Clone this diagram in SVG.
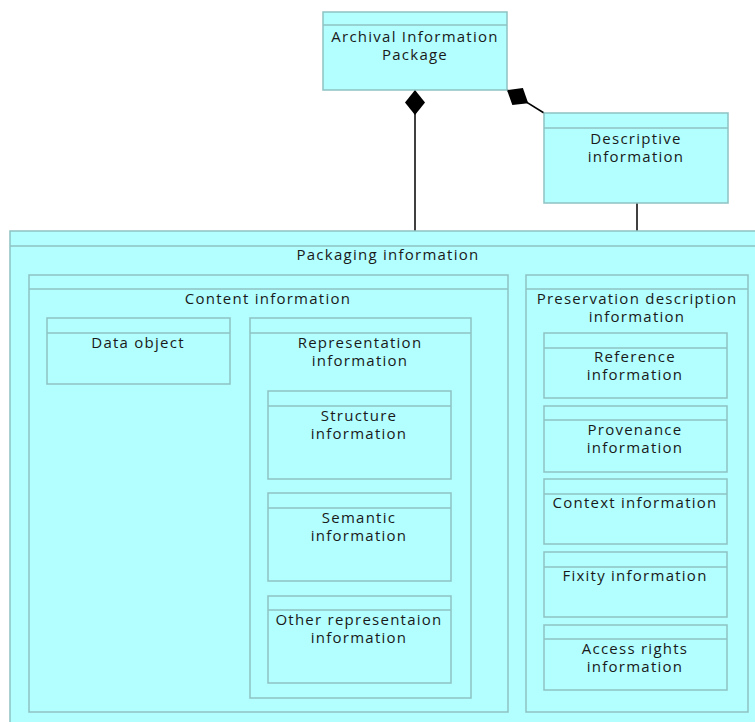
<svg xmlns="http://www.w3.org/2000/svg" width="755" height="722" viewBox="0 0 755 722">
  <style>
    .box { fill: #b3ffff; stroke: #8fc2c2; stroke-width: 1.5; }
    .hdr { stroke: #8fc2c2; stroke-width: 1.5; fill: none; }
    .lbl { font-family: "Open Sans", "DejaVu Sans", sans-serif; font-size: 15px; letter-spacing: 1.25px; fill: #1a1a1a; text-anchor: middle; }
    .conn { stroke: #000; stroke-width: 1.5; fill: none; }
  </style>
  <defs>
    <marker id="diamond" markerUnits="userSpaceOnUse" markerWidth="28" markerHeight="22" refX="0" refY="10" orient="auto">
      <path d="M0,10 L12.5,0 L25,10 L12.5,20 Z" fill="#000"/>
    </marker>
  </defs>

  <rect width="755" height="722" fill="#fff"/>

  <!-- composition links -->
  <g id="connectors">
    <line class="conn" x1="415" y1="90" x2="415" y2="231" marker-start="url(#diamond)"/>
    <line class="conn" x1="507" y1="90" x2="544" y2="113" marker-start="url(#diamond)"/>
    <line class="conn" x1="637" y1="203" x2="637" y2="231"/>
  </g>

  <g id="aip">
    <rect class="box" x="323" y="12" width="184" height="78"/>
    <line class="hdr" x1="323" y1="25" x2="507" y2="25"/>
    <text class="lbl" x="415" y="42">Archival Information</text>
    <text class="lbl" x="415" y="60">Package</text>
  </g>

  <g id="descriptive">
    <rect class="box" x="544" y="113" width="184" height="90"/>
    <line class="hdr" x1="544" y1="128" x2="728" y2="128"/>
    <text class="lbl" x="636" y="144">Descriptive</text>
    <text class="lbl" x="636" y="162">information</text>
  </g>

  <g id="packaging">
    <rect class="box" x="10" y="231" width="770" height="510"/>
    <line class="hdr" x1="10" y1="246" x2="780" y2="246"/>
    <text class="lbl" x="388" y="260">Packaging information</text>
  </g>

  <g id="content">
    <rect class="box" x="29" y="275" width="479" height="437"/>
    <line class="hdr" x1="29" y1="289" x2="508" y2="289"/>
    <text class="lbl" x="268" y="304">Content information</text>
  </g>

  <g id="data-object">
    <rect class="box" x="47" y="318" width="183" height="66"/>
    <line class="hdr" x1="47" y1="333" x2="230" y2="333"/>
    <text class="lbl" x="138" y="348">Data object</text>
  </g>

  <g id="representation">
    <rect class="box" x="250" y="318" width="221" height="380"/>
    <line class="hdr" x1="250" y1="333" x2="471" y2="333"/>
    <text class="lbl" x="360" y="348">Representation</text>
    <text class="lbl" x="360" y="366">information</text>
  </g>

  <g id="structure">
    <rect class="box" x="268" y="391" width="183" height="88"/>
    <line class="hdr" x1="268" y1="406" x2="451" y2="406"/>
    <text class="lbl" x="359" y="421">Structure</text>
    <text class="lbl" x="359" y="439">information</text>
  </g>

  <g id="semantic">
    <rect class="box" x="268" y="493" width="183" height="88"/>
    <line class="hdr" x1="268" y1="508" x2="451" y2="508"/>
    <text class="lbl" x="359" y="523">Semantic</text>
    <text class="lbl" x="359" y="541">information</text>
  </g>

  <g id="other-representation">
    <rect class="box" x="268" y="596" width="183" height="87"/>
    <line class="hdr" x1="268" y1="610" x2="451" y2="610"/>
    <text class="lbl" x="359" y="625">Other representaion</text>
    <text class="lbl" x="359" y="643">information</text>
  </g>

  <g id="preservation">
    <rect class="box" x="526" y="275" width="222" height="437"/>
    <line class="hdr" x1="526" y1="289" x2="748" y2="289"/>
    <text class="lbl" x="637" y="304">Preservation description</text>
    <text class="lbl" x="637" y="322">information</text>
  </g>

  <g id="reference">
    <rect class="box" x="544" y="333" width="183" height="65"/>
    <line class="hdr" x1="544" y1="348" x2="727" y2="348"/>
    <text class="lbl" x="635" y="362">Reference</text>
    <text class="lbl" x="635" y="380">information</text>
  </g>

  <g id="provenance">
    <rect class="box" x="544" y="406" width="183" height="66"/>
    <line class="hdr" x1="544" y1="420" x2="727" y2="420"/>
    <text class="lbl" x="635" y="435">Provenance</text>
    <text class="lbl" x="635" y="453">information</text>
  </g>

  <g id="context">
    <rect class="box" x="544" y="479" width="183" height="65"/>
    <line class="hdr" x1="544" y1="494" x2="727" y2="494"/>
    <text class="lbl" x="635" y="508">Context information</text>
  </g>

  <g id="fixity">
    <rect class="box" x="544" y="552" width="183" height="65"/>
    <line class="hdr" x1="544" y1="567" x2="727" y2="567"/>
    <text class="lbl" x="635" y="581">Fixity information</text>
  </g>

  <g id="access-rights">
    <rect class="box" x="544" y="625" width="183" height="65"/>
    <line class="hdr" x1="544" y1="639" x2="727" y2="639"/>
    <text class="lbl" x="635" y="654">Access rights</text>
    <text class="lbl" x="635" y="672">information</text>
  </g>
</svg>
